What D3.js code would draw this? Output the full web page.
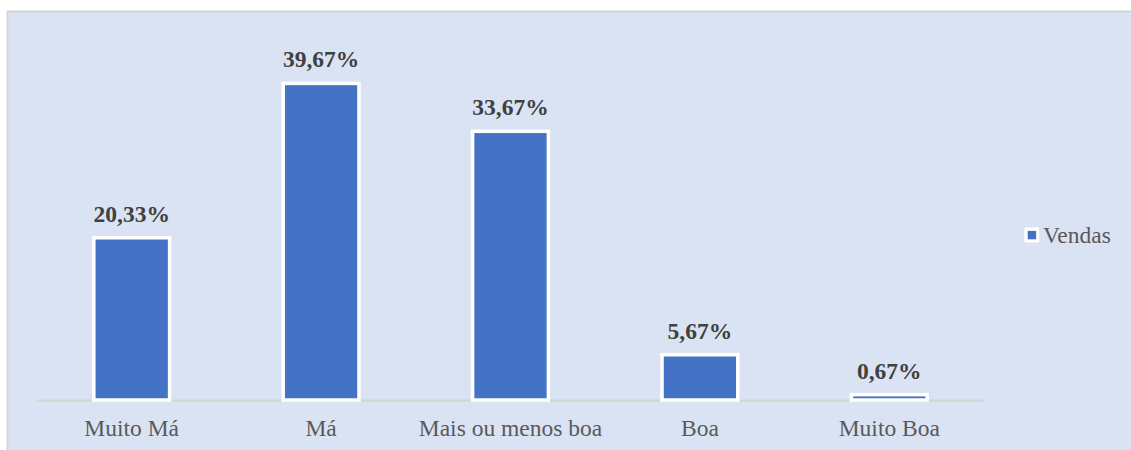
<!DOCTYPE html>
<html>
<head>
<meta charset="utf-8">
<script src="https://cdn.jsdelivr.net/npm/d3@7"></script>
<style>
  html, body { margin: 0; padding: 0; background: #ffffff; }
  svg { display: block; }
  svg text { font-family: "Liberation Serif", "Times New Roman", Times, serif; }
</style>
</head>
<body>
<svg id="chart" width="1131" height="450"></svg>
<script>
const categories = ["Muito Má", "Má", "Mais ou menos boa", "Boa", "Muito Boa"];
const vendas = [20.33, 39.67, 33.67, 5.67, 0.67];
const valueLabels = ["20,33%", "39,67%", "33,67%", "5,67%", "0,67%"];
const seriesName = "Vendas";

const svg = d3.select("#chart");
const W = 1131, H = 450;
const font = "Liberation Serif, Times New Roman, Times, serif";

// chart background
svg.append("rect")
  .attr("x", 7.5).attr("y", 11.5)
  .attr("width", W).attr("height", H)
  .attr("fill", "#dae3f3")
  .attr("stroke", "#d5d5d5")
  .attr("stroke-width", 2);

const x = d3.scaleBand()
  .domain(categories)
  .range([37, 984])
  .paddingInner(0.6)
  .paddingOuter(0.3);

const y = d3.scaleLinear()
  .domain([0, 45])
  .range([400, 400 - 45 * 7.98]);

// axis line
const xAxis = d3.axisBottom(x).tickSize(0).tickPadding(0);
const gx = svg.append("g").attr("transform", `translate(0,${y(0)})`).call(xAxis)
  .attr("font-family", font).attr("font-size", 23.5);
gx.select(".domain").attr("stroke", "#d3d3d3").attr("stroke-width", 2);
gx.selectAll(".tick text")
  .attr("y", 36)
  .attr("dy", 0)
  .attr("fill", "#595959")
  .attr("font-family", font)
  .attr("font-size", 23.5);

// bars
svg.append("g").selectAll("rect")
  .data(vendas)
  .join("rect")
  .attr("x", (d, i) => x(categories[i]))
  .attr("y", d => y(d))
  .attr("width", x.bandwidth())
  .attr("height", d => y(0) - y(d))
  .attr("fill", "#4472c4")
  .attr("stroke", "#ffffff")
  .attr("stroke-width", 3.5);

// value labels
svg.append("g").selectAll("text")
  .data(vendas)
  .join("text")
  .attr("x", (d, i) => x(categories[i]) + x.bandwidth() / 2)
  .attr("y", d => y(d) - 16)
  .attr("text-anchor", "middle")
  .attr("fill", "#404040")
  .attr("font-family", font)
  .attr("font-size", 23.5)
  .attr("font-weight", "bold")
  .text((d, i) => valueLabels[i]);

// legend
const lg = svg.append("g").attr("transform", "translate(1024.3,227.5)");
lg.append("rect")
  .attr("width", 15).attr("height", 15)
  .attr("rx", 1.5)
  .attr("fill", "#ffffff");
lg.append("rect")
  .attr("x", 3.4).attr("y", 3.4)
  .attr("width", 8.4).attr("height", 8.4)
  .attr("fill", "#4472c4");
lg.append("text")
  .attr("x", 18.7).attr("y", 15)
  .attr("fill", "#595959")
  .attr("font-family", font)
  .attr("font-size", 23.5)
  .text(seriesName);
</script>
</body>
</html>
